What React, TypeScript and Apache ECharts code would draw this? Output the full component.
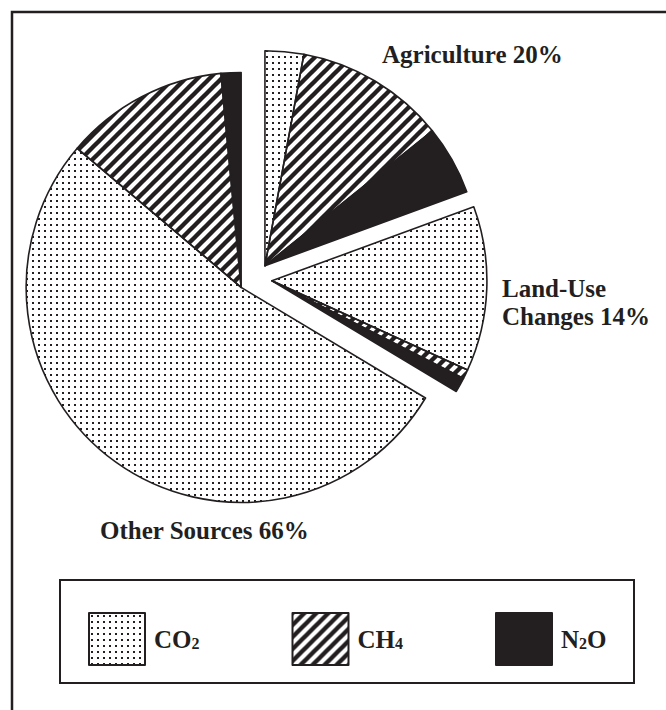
import React, { useEffect, useRef } from 'react';
import * as echarts from 'echarts';

// ---- data ----
const groupNames = ['Agriculture', 'Land-Use Changes', 'Other Sources'];
const groupLabelNames = ['Agriculture', 'Land-Use\nChanges', 'Other Sources'];
const groupShares = [20, 14, 66]; // printed percentages
const gases = ['CO2', 'CH4', 'N2O'];
const gasLabels = ['{b|CO}{s|2}', '{b|CH}{s|4}', '{b|N}{s|2}{b|O}'];
// slice sizes per group (percent of whole pie)
const co2Values = [2.9, 12.4, 52.6];
const ch4Values = [11.3, 0.7, 12.3];
const n2oValues = [5.2, 1.1, 1.5];

const INK = '#231f20';
const FONT = '"Liberation Serif", "Times New Roman", serif';

function dotPattern() {
  const s = 6;
  const c = document.createElement('canvas');
  c.width = s;
  c.height = s;
  const g = c.getContext('2d')!;
  g.fillStyle = INK;
  g.fillRect(2, 2, 2, 2);
  return { image: c.toDataURL(), repeat: 'repeat', imageWidth: s, imageHeight: s };
}

function stripePattern() {
  const s = 12;
  const c = document.createElement('canvas');
  c.width = s;
  c.height = s;
  const g = c.getContext('2d')!;
  g.strokeStyle = INK;
  g.lineWidth = 4.4;
  for (const k of [0, s, 2 * s]) {
    g.beginPath();
    g.moveTo(k + 6, -6);
    g.lineTo(k - s - 6, s + 6);
    g.stroke();
  }
  return { image: c.toDataURL(), repeat: 'repeat', imageWidth: s, imageHeight: s };
}

export default function App() {
  const ref = useRef<HTMLDivElement>(null);

  useEffect(() => {
    if (!ref.current) return;
    const chart = echarts.init(ref.current, null, { renderer: 'svg' });
    const dots = dotPattern();
    const stripes = stripePattern();
    const fills = [dots, stripes, INK];

    const CX = 255.5;
    const CY = 279.3;
    const R = 215;
    const OFFSET = 16.5;

    const totals = groupNames.map((_, i) => co2Values[i] + ch4Values[i] + n2oValues[i]);
    const grand = totals.reduce((a, b) => a + b, 0);
    let cum = 0;
    const series = groupNames.map((name, i) => {
      const start = 90 - (360 * cum) / grand;
      const sweep = (360 * totals[i]) / grand;
      cum += totals[i];
      const mid = ((start - sweep / 2) * Math.PI) / 180;
      const center = [CX + OFFSET * Math.cos(mid), CY - OFFSET * Math.sin(mid)];
      const vals = [co2Values[i], ch4Values[i], n2oValues[i]];
      return {
        type: 'pie',
        name,
        radius: R,
        center,
        startAngle: start,
        clockwise: true,
        silent: true,
        minAngle: 0,
        avoidLabelOverlap: false,
        label: { show: false },
        labelLine: { show: false },
        emphasis: { disabled: true },
        itemStyle: { borderColor: INK, borderWidth: 1.6 },
        data: [
          ...gases.map((g, k) => ({ name: g, value: vals[k], itemStyle: { color: fills[k] } })),
          {
            name: '',
            value: grand - totals[i],
            itemStyle: { color: 'rgba(0,0,0,0)', borderWidth: 0 },
          },
        ],
      };
    });

    const rich = {
      g: { width: 4, fontSize: 25, lineHeight: 25 },
      b: { fontSize: 25, fontWeight: 'bold', fontFamily: FONT, color: INK, lineHeight: 25 },
      s: {
        fontSize: 16,
        fontWeight: 'bold',
        fontFamily: FONT,
        color: INK,
        lineHeight: 13,
        verticalAlign: 'bottom',
      },
    };

    chart.setOption({
      animation: false,
      backgroundColor: '#ffffff',
      legend: {
        data: gases,
        left: 83,
        top: 607,
        orient: 'horizontal',
        icon: 'rect',
        itemWidth: 56,
        itemHeight: 52,
        itemGap: 92,
        selectedMode: false,
        itemStyle: { borderColor: INK, borderWidth: 2 },
        formatter: (name: string) => '{g| }' + gasLabels[gases.indexOf(name)],
        textStyle: { rich },
      },
      graphic: [
        {
          type: 'rect',
          shape: { x: 12, y: 12, width: 700, height: 760 },
          style: { fill: 'none', stroke: INK, lineWidth: 2.5 },
          silent: true,
        },
        {
          type: 'rect',
          shape: { x: 60, y: 580, width: 574, height: 103 },
          style: { fill: 'none', stroke: INK, lineWidth: 2 },
          silent: true,
        },
        {
          type: 'text',
          x: 382,
          y: 54.6,
          style: {
            text: `${groupLabelNames[0]} ${groupShares[0]}%`,
            font: `bold 25px ${FONT}`,
            fill: INK,
            align: 'left',
            verticalAlign: 'middle',
          },
        },
        {
          type: 'text',
          x: 502,
          y: 274,
          style: {
            text: `${groupLabelNames[1]} ${groupShares[1]}%`,
            font: `bold 25px ${FONT}`,
            lineHeight: 28,
            fill: INK,
            align: 'left',
            verticalAlign: 'top',
          },
        },
        {
          type: 'text',
          x: 100,
          y: 530.6,
          style: {
            text: `${groupLabelNames[2]} ${groupShares[2]}%`,
            font: `bold 25px ${FONT}`,
            fill: INK,
            align: 'left',
            verticalAlign: 'middle',
          },
        },
      ],
      series,
    });

    return () => chart.dispose();
  }, []);

  return (
    <div
      ref={ref}
      style={{ position: 'fixed', left: 0, top: 0, width: 666, height: 710, background: '#fff' }}
    />
  );
}
